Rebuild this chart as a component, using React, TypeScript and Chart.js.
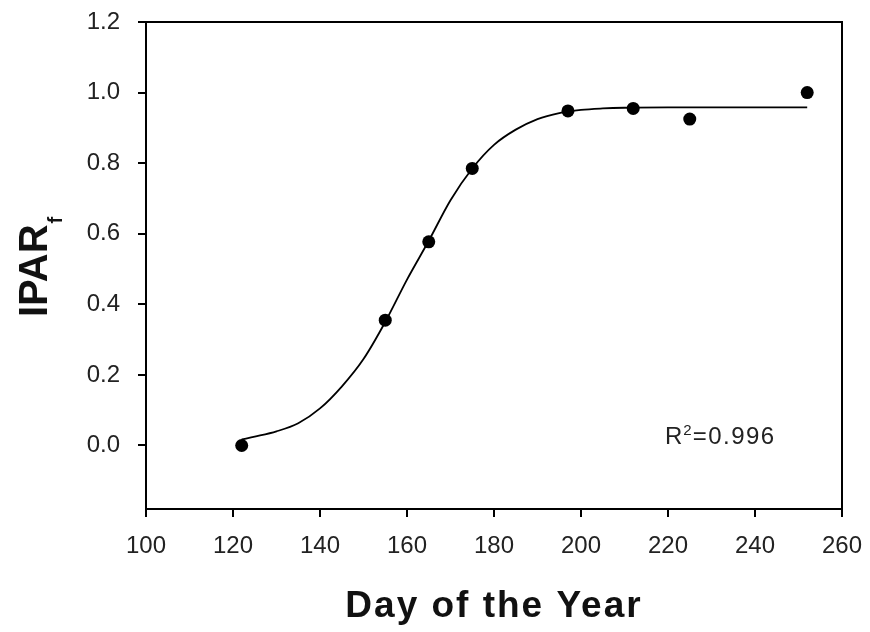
import React, { useEffect, useRef } from "react";
import { Chart, registerables } from "chart.js";

Chart.register(...registerables);

// Observed data
const POINT_DAYS = [122, 155, 165, 175, 197, 212, 225, 252];
const POINT_IPAR = [0.0, 0.355, 0.577, 0.785, 0.948, 0.955, 0.925, 1.0];

// Fitted curve
const CURVE_DAYS = [122, 125, 130, 135, 140, 145, 150, 155, 160, 165, 170, 175, 180, 185, 190, 195, 200, 205, 210, 220, 230, 240, 252];
const CURVE_IPAR = [0.017, 0.025, 0.04, 0.063, 0.105, 0.167, 0.245, 0.35, 0.47, 0.58, 0.695, 0.785, 0.852, 0.895, 0.925, 0.942, 0.951, 0.955, 0.957, 0.958, 0.958, 0.958, 0.958];

const X_TICKS = [100, 120, 140, 160, 180, 200, 220, 240, 260];
const Y_TICKS = [0.0, 0.2, 0.4, 0.6, 0.8, 1.0, 1.2];

const X_TITLE = "Day of the Year";
const Y_TITLE_MAIN = "IPAR";
const Y_TITLE_SUB = "f";
const R2_LABEL = "R";
const R2_SUP = "2";
const R2_VALUE = "=0.996";

const FONT = "'Liberation Sans', Arial, Helvetica, sans-serif";

const decorPlugin = {
  id: "decor",
  afterDraw(chart: any) {
    const { ctx, chartArea, scales } = chart;
    ctx.save();
    // frame (top and right)
    ctx.strokeStyle = "#000";
    ctx.lineWidth = 2;
    ctx.beginPath();
    ctx.moveTo(chartArea.left, chartArea.top);
    ctx.lineTo(chartArea.right, chartArea.top);
    ctx.lineTo(chartArea.right, chartArea.bottom);
    ctx.stroke();

    ctx.fillStyle = "#111";
    // x title
    ctx.font = `bold 37px ${FONT}`;
    (ctx as any).letterSpacing = "2px";
    ctx.textAlign = "center";
    ctx.textBaseline = "alphabetic";
    ctx.fillText(X_TITLE, (chartArea.left + chartArea.right) / 2, 617);

    // y title rotated
    (ctx as any).letterSpacing = "0px";
    ctx.save();
    ctx.translate(47, 317);
    ctx.rotate(-Math.PI / 2);
    ctx.textAlign = "left";
    ctx.font = `bold 40px ${FONT}`;
    ctx.fillText(Y_TITLE_MAIN, 0, 0);
    const w = ctx.measureText(Y_TITLE_MAIN).width;
    ctx.font = `bold 20px ${FONT}`;
    ctx.fillText(Y_TITLE_SUB, w + 1, 15);
    ctx.restore();

    // R^2 annotation
    const rx = scales.x.getPixelForValue(219.3);
    const ry = scales.y.getPixelForValue(0.005);
    ctx.textAlign = "left";
    ctx.fillStyle = "#222";
    ctx.font = `24px ${FONT}`;
    ctx.fillText(R2_LABEL, rx, ry);
    const rw = ctx.measureText(R2_LABEL).width;
    ctx.font = `15px ${FONT}`;
    ctx.fillText(R2_SUP, rx + rw + 1, ry - 9);
    const sw = ctx.measureText(R2_SUP).width;
    ctx.font = `24px ${FONT}`;
    (ctx as any).letterSpacing = "1.5px";
    ctx.fillText(R2_VALUE, rx + rw + sw + 2, ry);
    ctx.restore();
  },
};

export default function App() {
  const ref = useRef<HTMLCanvasElement | null>(null);
  useEffect(() => {
    if (!ref.current) return;
    const chart = new Chart(ref.current, {
      type: "line",
      data: {
        datasets: [
          {
            label: "fit",
            data: CURVE_DAYS.map((d, i) => ({ x: d, y: CURVE_IPAR[i] })),
            borderColor: "#000",
            borderWidth: 1.8,
            pointRadius: 0,
            fill: false,
            cubicInterpolationMode: "monotone",
            order: 2,
          },
          {
            label: "observed",
            data: POINT_DAYS.map((d, i) => ({ x: d, y: POINT_IPAR[i] })),
            showLine: false,
            pointRadius: 6.5,
            pointBackgroundColor: "#000",
            pointBorderColor: "#000",
            pointBorderWidth: 0,
            order: 1,
          },
        ],
      },
      options: {
        animation: false,
        responsive: false,
        devicePixelRatio: 1,
        layout: { padding: { top: 22, right: 28, left: 0, bottom: 0 } },
        plugins: { legend: { display: false }, tooltip: { enabled: false } },
        scales: {
          x: {
            type: "linear",
            min: 100,
            max: 260,
            afterFit: (s: any) => {
              s.height = 123;
              s.paddingLeft = 0;
              s.paddingRight = 0;
            },
            afterBuildTicks: (s: any) => {
              s.ticks = X_TICKS.map((v) => ({ value: v }));
            },
            border: { display: true, color: "#000", width: 2 },
            grid: { drawOnChartArea: false, drawTicks: true, tickLength: 8, color: "#000", lineWidth: 2 },
            ticks: { color: "#222", font: { family: FONT, size: 24 }, padding: 15, maxRotation: 0, autoSkip: false },
          },
          y: {
            type: "linear",
            min: -0.18,
            max: 1.2,
            afterFit: (s: any) => {
              s.width = 146;
              s.paddingTop = 0;
              s.paddingBottom = 0;
            },
            afterBuildTicks: (s: any) => {
              s.ticks = Y_TICKS.map((v) => ({ value: v }));
            },
            border: { display: true, color: "#000", width: 2 },
            grid: { drawOnChartArea: false, drawTicks: true, tickLength: 8, color: "#000", lineWidth: 2 },
            ticks: {
              color: "#222",
              font: { family: FONT, size: 24 },
              padding: 18,
              autoSkip: false,
              callback: (v: any) => Number(v).toFixed(1),
            },
          },
        },
      },
      plugins: [decorPlugin],
    });
    return () => chart.destroy();
  }, []);
  return (
    <div style={{ position: "fixed", left: 0, top: 0, width: 870, height: 632, background: "#fff" }}>
      <canvas ref={ref} width={870} height={632} />
    </div>
  );
}
